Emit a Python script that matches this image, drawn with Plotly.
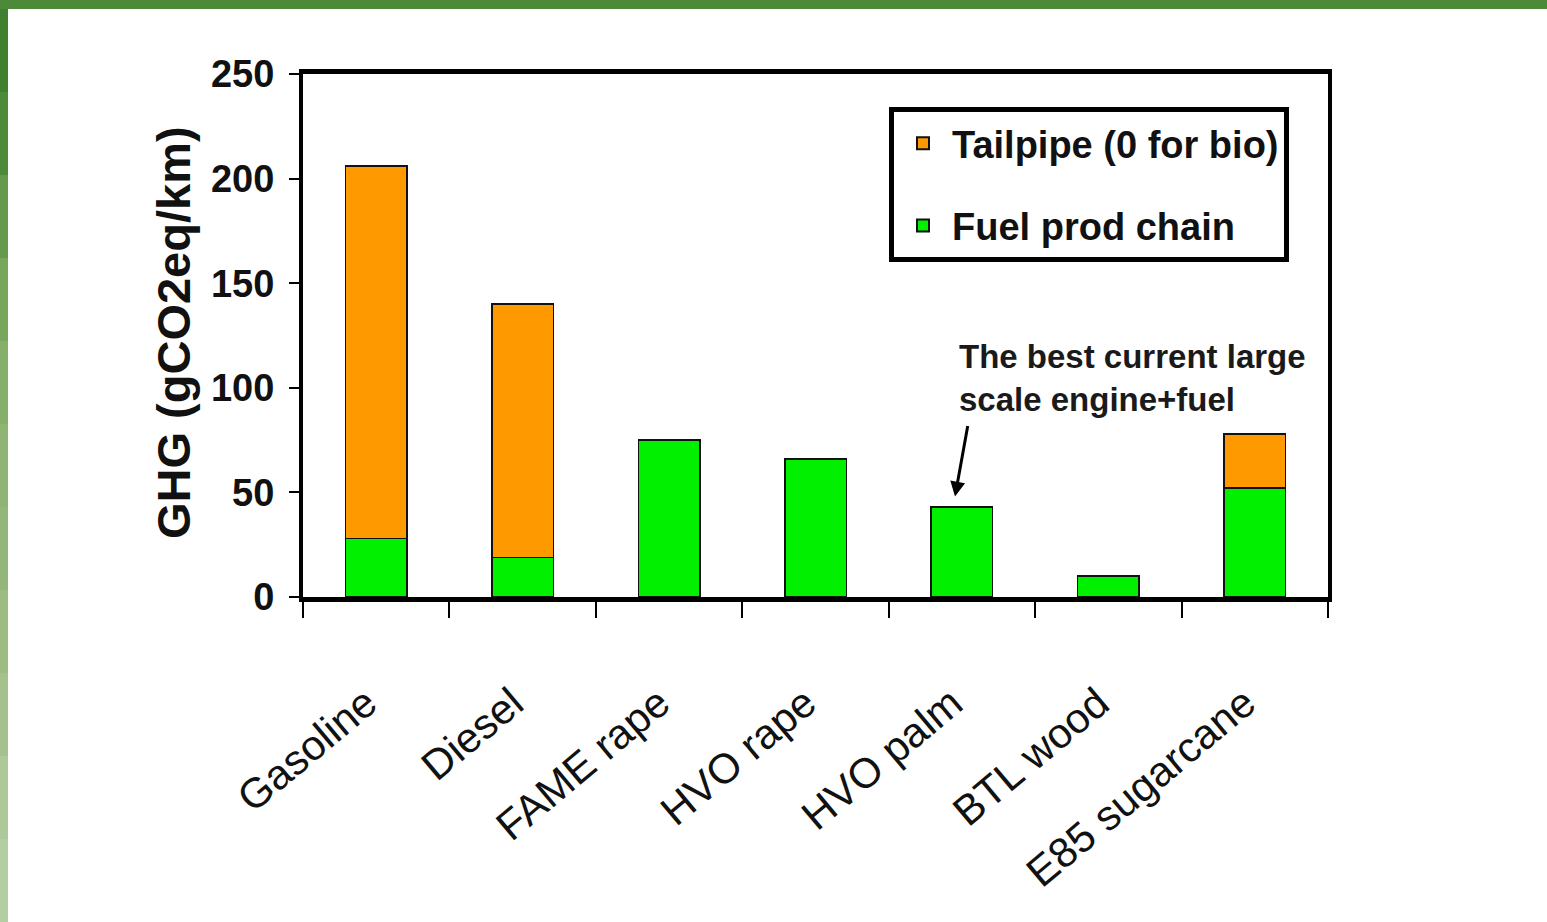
import plotly.graph_objects as go

categories = ["Gasoline", "Diesel", "FAME rape", "HVO rape", "HVO palm", "BTL wood", "E85 sugarcane"]
fuel_prod_chain = [28, 19, 75, 66, 43, 10, 52]
tailpipe = [178, 121, 0, 0, 0, 0, 26]
y_ticks = [0, 50, 100, 150, 200, 250]

W, H = 1547, 922
L, R, T, B = 303, 219, 74, 325
PW, PH = W - L - R, H - T - B


def px(x):
    return (x - L) / PW


def py(y):
    return (H - B - y) / PH


SANS = "Liberation Sans, Arial, sans-serif"
ORANGE = "#FF9900"
GREEN = "#00F000"

fig = go.Figure()
fig.add_trace(go.Bar(
    x=categories, y=fuel_prod_chain, name="Fuel prod chain", legendgroup="fuel", legendrank=2,
    marker=dict(color=GREEN, line=dict(color="#111111", width=1.5)),
    width=0.42,
))
fig.add_trace(go.Bar(
    x=categories, y=tailpipe, name="Tailpipe (0 for bio)", legendgroup="tail", legendrank=1,
    marker=dict(color=ORANGE, line=dict(color="#111111", width=1.5)),
    width=0.42,
))

shapes = []
# top green band
shapes.append(dict(type="rect", xref="paper", yref="paper", x0=px(0), x1=px(W), y0=py(9), y1=py(0),
                   fillcolor="#4C8A3A", line=dict(width=0), layer="below"))
# left green band (gradient approximated by segments)
left_cols = ["#3F7F30", "#4E8A3C", "#639A4C", "#77A75C", "#86AF6A", "#8FB473", "#93B67A", "#9CBC84",
             "#A5C28E", "#AEC89A", "#B5CDA3"]
n = len(left_cols)
for i, c in enumerate(left_cols):
    y0 = 9 + (H - 9) * i / n
    y1 = 9 + (H - 9) * (i + 1) / n
    shapes.append(dict(type="rect", xref="paper", yref="paper", x0=px(0), x1=px(8), y0=py(y1), y1=py(y0),
                       fillcolor=c, line=dict(width=0), layer="below"))

fig.update_layout(
    width=W, height=H,
    margin=dict(l=L, r=R, t=T, b=B, autoexpand=False),
    paper_bgcolor="white", plot_bgcolor="white",
    barmode="stack",
    shapes=shapes,
    showlegend=True,
    legend=dict(
        x=px(889), y=py(107), xanchor="left", yanchor="top",
        traceorder="grouped",
        bgcolor="white", bordercolor="black", borderwidth=5,
        font=dict(family=SANS, size=38, color="#111111", weight="bold"),
        itemsizing="constant", itemwidth=48, tracegroupgap=30,
    ),
    xaxis=dict(
        type="category", range=[-0.5, 6.5],
        showline=True, linecolor="black", linewidth=5, mirror=True,
        ticks="outside", tickson="boundaries", ticklen=16, tickwidth=2, tickcolor="black",
        tickangle=-40, tickfont=dict(family=SANS, size=42, color="#111111"),
        ticklabelstandoff=60, ticklabelshift=-10,
        showgrid=False, zeroline=False,
    ),
    yaxis=dict(
        range=[0, 250], tickvals=y_ticks,
        showline=True, linecolor="black", linewidth=4, mirror=True,
        ticks="outside", ticklen=10, tickwidth=2, tickcolor="black",
        tickfont=dict(family=SANS, size=38, color="#111111", weight="bold"),
        ticklabelstandoff=7,
        showgrid=False, zeroline=False,
    ),
    annotations=[
        dict(text="GHG (gCO2eq/km)", xref="paper", yref="paper", x=px(173), y=py(333),
             xanchor="center", yanchor="middle", textangle=-90, showarrow=False,
             font=dict(family=SANS, size=47, color="#111111", weight="bold")),
        dict(text="The best current large<br>scale engine+fuel", xref="paper", yref="paper",
             x=px(957), y=py(336), xanchor="left", yanchor="top", align="left", showarrow=False,
             font=dict(family=SANS, size=33, color="#1a1a1a", weight="bold")),
        dict(text="", x=px(955), y=48, xref="paper", yref="y", ax=13, ay=-72, showarrow=True,
             arrowhead=2, arrowsize=1, arrowwidth=3, arrowcolor="black"),
    ],
)

fig.write_html("out.html")
